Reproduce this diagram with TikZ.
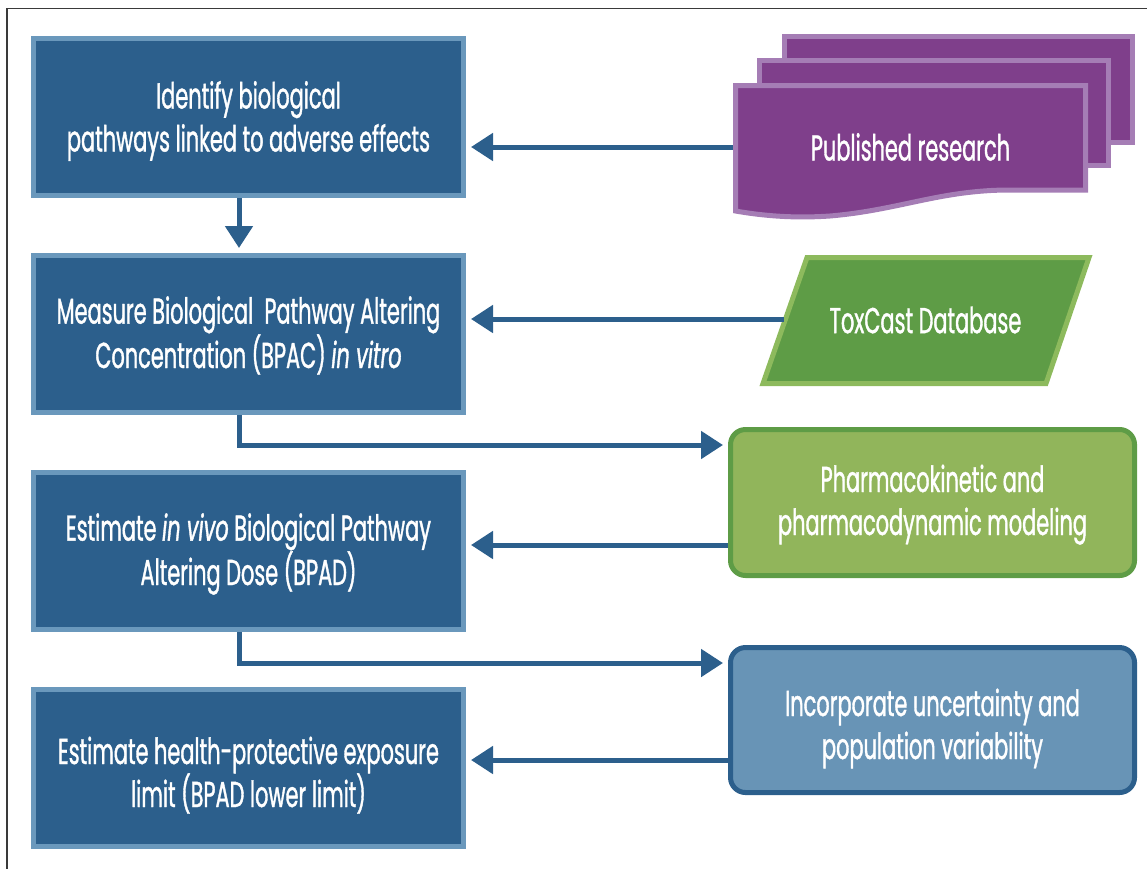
\documentclass[tikz,border=0pt]{standalone}
\usepackage{fontspec}
\setmainfont{Poppins}[FakeStretch=0.58, FakeBold=1]
\usepackage{xcolor}
\usepackage{tikz}
\definecolor{stepblue}{HTML}{2C5F8C}
\definecolor{steprim}{HTML}{6A98BC}
\definecolor{paperfill}{HTML}{7F3F8B}
\definecolor{paperrim}{HTML}{A57DB5}
\definecolor{dbfill}{HTML}{5E9C46}
\definecolor{dbrim}{HTML}{8DBA5D}
\definecolor{pkfill}{HTML}{91B55B}
\definecolor{uncfill}{HTML}{6894B6}
\definecolor{framegray}{HTML}{3A3A3A}
\usetikzlibrary{arrows.meta, positioning, calc}

\begin{document}
\begin{tikzpicture}[x=1pt, y=-1pt,
    boxtext/.style={text=white, align=center, font=\fontsize{36}{43}\selectfont},
    textdrop/.style={text height=#1, text depth=0pt},
    stepbox/.style={boxtext, draw=steprim, line width=5pt, fill=stepblue, minimum width=430pt, minimum height=157pt},
    roundbox/.style={boxtext, line width=5pt, rounded corners=15pt, minimum width=404pt, minimum height=146pt},
    paper/.style={draw=paperrim, fill=paperfill, line width=5pt},
    flow/.style={draw=stepblue, line width=5pt, -{Triangle[length=22pt, width=27pt]}, shorten >=5pt}]
    \useasboundingbox (0,0) rectangle (1147,868);
    \clip (0,0) rectangle (1147,868);

    % Outer frame
    \draw[framegray, line width=1.5pt] (7,8.5) rectangle (1200,900);

    % Steps
    \node[stepbox, textdrop=69pt] (identify) at (248.5,117) {Identify biological\\pathways linked to adverse effects};
    \node[stepbox, textdrop=68pt, below=55pt of identify] (measure) {Measure Biological\ \ Pathway Altering\\Concentration (BPAC) \textit{in vitro}};
    \node[stepbox, textdrop=68pt, below=55pt of measure] (estimate) {Estimate \textit{in vivo} Biological Pathway\\Altering Dose (BPAD)};
    \node[stepbox, textdrop=78pt, below=55pt of estimate] (limit) {Estimate health-protective exposure\\limit (BPAD lower limit)};

    % Published research (stack of papers)
    \draw[paper] (784.5,36.5) rectangle (1132.5,142.5);
    \draw[paper] (759.5,60.5) rectangle (1108.5,165.5);
    \draw[paper] (735.5,85.5) -- (1085.5,85.5) -- (1085.5,190) -- (1010,190)
        .. controls (940,190) and (900,210) .. (830,216)
        .. controls (800,218) and (770,217) .. (735.5,211) -- cycle;
    \node[boxtext, minimum width=355pt, inner sep=0pt, outer sep=0pt] (pubres) at (910.5,147) {Published research};

    % ToxCast database
    \draw[draw=dbrim, fill=dbfill, line width=5pt] (807,257.5) -- (1089,257.5) -- (1046,383.5) -- (763,383.5) -- cycle;
    \node[boxtext] (toxcast) at (925.5,320) {ToxCast Database};
    \coordinate (toxin) at (784,319);

    % Modeling
    \node[roundbox, textdrop=65pt, draw=dbfill, fill=pkfill] (pkmodel) at (932.5,502.5) {Pharmacokinetic and\\pharmacodynamic modeling};
    \node[roundbox, textdrop=78pt, draw=stepblue, fill=uncfill, minimum height=145pt] (uncert) at (932.5,720) {Incorporate uncertainty and\\population variability};

    \coordinate (pkin) at ([yshift=57.5pt]pkmodel.west);
    \coordinate (pkout) at ([yshift=-42.5pt]pkmodel.west);
    \coordinate (uncin) at ([yshift=57pt]uncert.west);
    \coordinate (uncout) at ([yshift=-40pt]uncert.west);

    % Arrows
    \draw[flow] ([xshift=-9.5pt]identify.south) -- ([xshift=-9.5pt]measure.north);
    \draw[flow] (pubres.west) -- (pubres.west -| identify.east);
    \draw[flow] (toxin) -- (toxin -| measure.east);
    \draw[flow] ([xshift=-9.5pt]measure.south) |- (pkin);
    \draw[flow] (pkout) -- (pkout -| estimate.east);
    \draw[flow] ([xshift=-9.5pt]estimate.south) |- (uncin);
    \draw[flow] (uncout) -- (uncout -| limit.east);
\end{tikzpicture}
\end{document}
